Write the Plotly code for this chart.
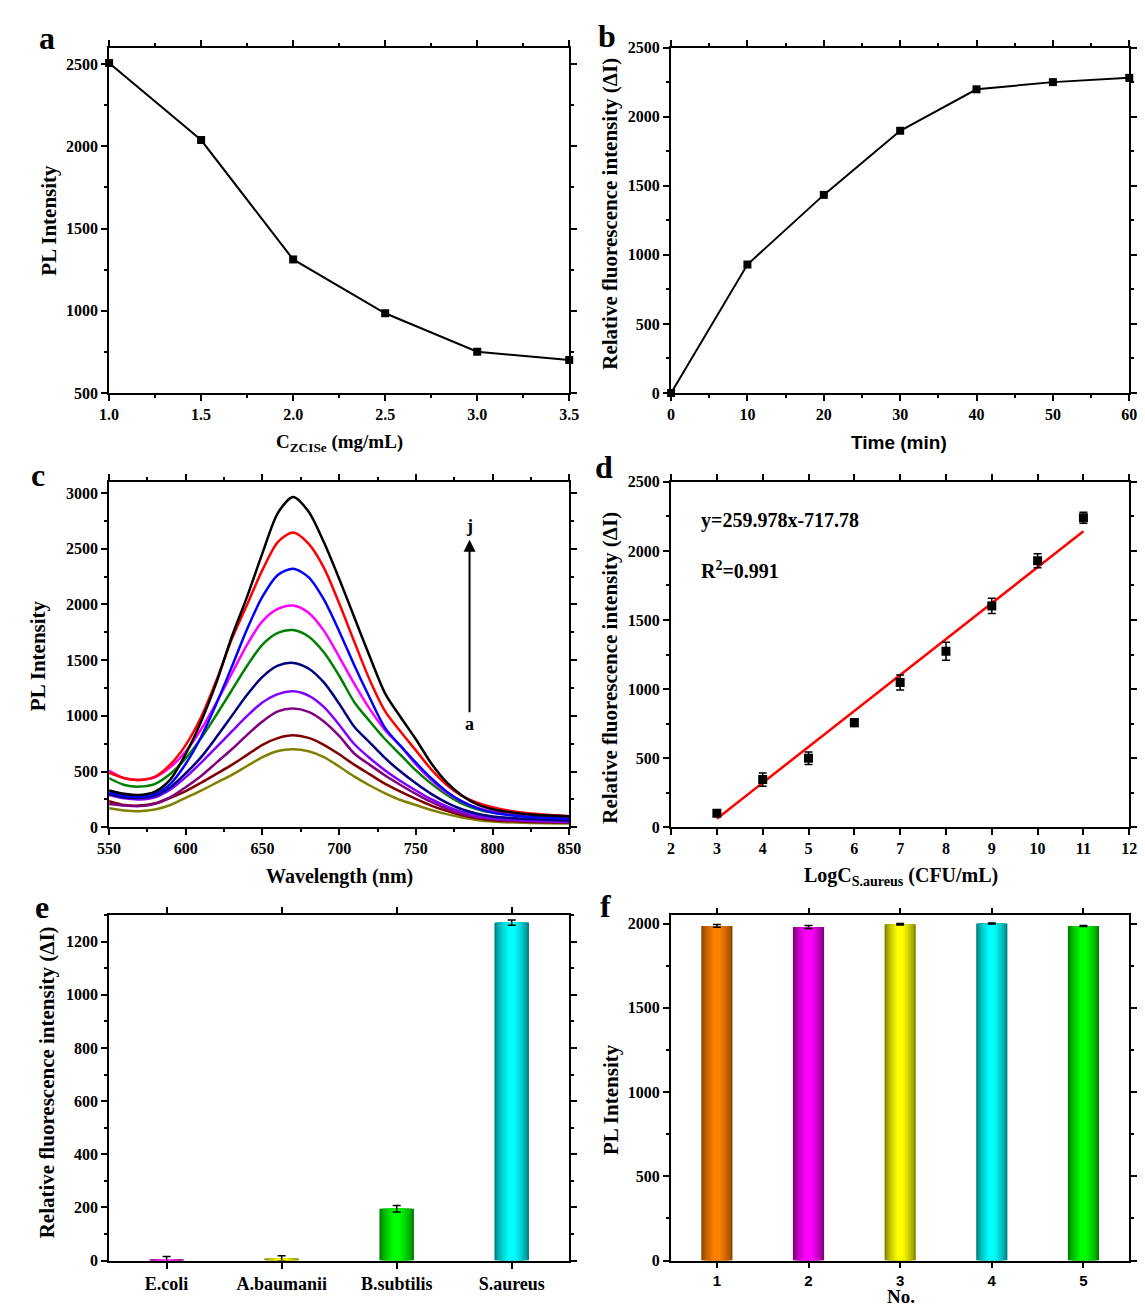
import plotly.graph_objects as go

W, H = 1145, 1305

# ---------------- data ----------------
# panel a
a_x = [1.0, 1.5, 2.0, 2.5, 3.0, 3.5]
a_y = [2506, 2038, 1312, 985, 751, 701]
# panel b
b_x = [0, 10, 20, 30, 40, 50, 60]
b_y = [0, 930, 1434, 1898, 2198, 2250, 2281]
# panel c (spectra a..j)
c_wl = [550, 560, 570, 580, 590, 600, 610, 620, 630, 640, 650, 660, 670, 680,
        690, 700, 710, 720, 730, 740, 750, 760, 770, 780, 790, 800, 820, 850]
c_a = [170, 150, 145, 160, 200, 265, 330, 400, 470, 550, 630, 685, 700, 682,
       630, 545, 455, 375, 305, 245, 200, 155, 118, 88, 66, 52, 40, 33]
c_b = [235, 200, 195, 215, 265, 325, 400, 480, 560, 650, 740, 800, 825, 802,
       740, 655, 560, 475, 390, 320, 255, 195, 147, 108, 82, 64, 50, 42]
c_c = [210, 195, 190, 210, 270, 360, 460, 580, 700, 830, 950, 1040, 1065, 1035,
       950, 820, 660, 560, 465, 380, 300, 228, 168, 122, 92, 72, 56, 46]
c_d = [290, 260, 250, 270, 340, 450, 580, 720, 860, 1000, 1120, 1195, 1220, 1182,
       1080, 920, 745, 620, 510, 415, 330, 252, 188, 138, 102, 82, 64, 52]
c_e = [300, 270, 265, 285, 360, 485, 630, 810, 1000, 1190, 1350, 1450, 1475, 1425,
       1300, 1110, 900, 760, 620, 500, 395, 300, 222, 162, 122, 97, 77, 62]
c_f = [440, 380, 365, 390, 480, 620, 800, 1010, 1230, 1450, 1640, 1745, 1770, 1712,
       1570, 1360, 1120, 950, 790, 650, 510, 392, 292, 212, 162, 132, 106, 90]
c_g = [510, 440, 425, 450, 540, 680, 880, 1120, 1380, 1640, 1850, 1960, 1990, 1925,
       1765, 1530, 1285, 1060, 870, 730, 565, 425, 312, 230, 175, 140, 105, 88]
c_h = [310, 285, 275, 300, 390, 570, 810, 1110, 1440, 1780, 2070, 2265, 2320, 2245,
       2045, 1760, 1450, 1160, 890, 730, 580, 440, 322, 232, 172, 132, 96, 76]
c_i = [490, 440, 425, 455, 565, 740, 990, 1320, 1690, 2000, 2310, 2560, 2645, 2545,
       2330, 2010, 1660, 1320, 1040, 860, 690, 520, 382, 282, 220, 180, 130, 100]
c_j = [330, 300, 290, 320, 430, 660, 950, 1300, 1710, 2070, 2460, 2820, 2965, 2835,
       2560, 2230, 1880, 1530, 1200, 990, 790, 575, 405, 285, 205, 162, 120, 98]
c_series = [c_a, c_b, c_c, c_d, c_e, c_f, c_g, c_h, c_i, c_j]
c_colors = ["#808000", "#800000", "#800080", "#8000FF", "#000080",
            "#008000", "#FF00FF", "#0000FF", "#FF0000", "#000000"]
# panel d
d_x = [3, 4, 5, 6, 7, 8, 9, 10, 11]
d_y = [102, 345, 500, 757, 1048, 1274, 1602, 1929, 2240]
d_err = [22, 48, 45, 28, 55, 65, 55, 50, 40]
fit_slope, fit_intercept = 259.978, -717.78
fit_x = [3, 11]
# panel e
e_cats = ["E.coli", "A.baumanii", "B.subtilis", "S.aureus"]
e_vals = [5, 8, 195, 1272]
e_err = [10, 10, 12, 10]
e_bright = ["#FF40FF", "#FFFF00", "#00FF00", "#00FFFF"]
e_dark = ["#800080", "#808000", "#008000", "#008080"]
# panel f
f_x = [1, 2, 3, 4, 5]
f_vals = [1986, 1980, 1996, 2000, 1986]
f_err = [8, 9, 5, 3, 3]
f_bright = ["#FF8000", "#FF00FF", "#FFFF00", "#00FFFF", "#00FF00"]
f_dark = ["#8B4500", "#800080", "#808000", "#008080", "#008000"]

# ---------------- helpers ----------------
SERIF = "Liberation Serif"
SANS = "Liberation Sans"


def px(x, y):
    return x / W, 1 - y / H


def dom_x(a, b):
    return [a / W, b / W]


def dom_y(top, bottom):
    return [1 - bottom / H, 1 - top / H]


def axis(domain, rng, dtick, minor_dtick=None, anchor=None, font=SERIF, fsize=16, **kw):
    d = dict(domain=domain, range=rng, dtick=dtick, showline=True, linecolor="black",
             linewidth=2, mirror="ticks", ticks="outside", ticklen=6, tickwidth=2,
             tickcolor="black", showgrid=False, zeroline=False, anchor=anchor,
             tickfont=dict(family=font, size=fsize, color="black", weight="bold"))
    if minor_dtick:
        d["minor"] = dict(dtick=minor_dtick, ticks="outside", ticklen=3, tickwidth=1.5,
                          tickcolor="black", showgrid=False)
    d.update(kw)
    return d


def hex2rgb(h):
    h = h.lstrip("#")
    return [int(h[i:i + 2], 16) for i in (0, 2, 4)]


def lerp(c1, c2, t):
    a, b = hex2rgb(c1), hex2rgb(c2)
    return "rgb(%d,%d,%d)" % tuple(round(a[i] + (b[i] - a[i]) * t) for i in range(3))


fig = go.Figure()

# panel a
fig.add_trace(go.Scatter(x=a_x, y=a_y, mode="lines+markers", xaxis="x", yaxis="y",
                         line=dict(color="black", width=2),
                         marker=dict(symbol="square", size=8, color="black"),
                         cliponaxis=False, showlegend=False))
# panel b
fig.add_trace(go.Scatter(x=b_x, y=b_y, mode="lines+markers", xaxis="x2", yaxis="y2",
                         line=dict(color="black", width=2),
                         marker=dict(symbol="square", size=8, color="black"),
                         cliponaxis=False, showlegend=False))
# panel c
for ys, col in zip(c_series, c_colors):
    fig.add_trace(go.Scatter(x=c_wl, y=ys, mode="lines", xaxis="x3", yaxis="y3",
                             line=dict(color=col, width=2.5, shape="spline", smoothing=0.8),
                             showlegend=False))
# panel d
fit_y = [fit_slope * v + fit_intercept for v in fit_x]
fig.add_trace(go.Scatter(x=fit_x, y=fit_y, mode="lines", xaxis="x4", yaxis="y4",
                         line=dict(color="#FF0000", width=2.5), showlegend=False))
fig.add_trace(go.Scatter(x=d_x, y=d_y, mode="markers", xaxis="x4", yaxis="y4",
                         marker=dict(symbol="square", size=9, color="black"),
                         error_y=dict(type="data", array=d_err, color="black",
                                      thickness=1.5, width=4),
                         showlegend=False))


def gradient_bars(xs, vals, errs, brights, darks, width, xa, ya, n=9):
    for k in range(n):
        t = k / (n - 1)
        wk = width * (1 - 0.9 * k / n)
        cols = [lerp(dk, br, t ** 0.7) for br, dk in zip(brights, darks)]
        tr = dict(x=xs, y=vals, width=[wk] * len(xs), xaxis=xa, yaxis=ya,
                  marker=dict(color=cols, line=dict(width=0)), showlegend=False)
        if k == n - 1:
            tr["error_y"] = dict(type="data", array=errs, color="black",
                                 thickness=1.5, width=4)
        fig.add_trace(go.Bar(**tr))


gradient_bars(e_cats, e_vals, e_err, e_bright, e_dark, 0.3, "x5", "y5")
gradient_bars(f_x, f_vals, f_err, f_bright, f_dark, 0.34, "x6", "y6")

LX = dom_x(91, 561)
RX = dom_x(665, 1133)
R1 = dom_y(32, 382)
R2 = dom_y(472, 822)
R3 = dom_y(911, 1261)

fig.update_layout(
    width=W, height=H, margin=dict(l=0, r=0, t=0, b=0),
    paper_bgcolor="white", plot_bgcolor="white", barmode="overlay",
    xaxis=axis(LX, [1.0, 3.5], 0.5, 0.25, anchor="y", tickformat=".1f"),
    yaxis=axis(R1, [500, 2600], 500, 250, anchor="x"),
    xaxis2=axis(RX, [0, 60], 10, 5, anchor="y2"),
    yaxis2=axis(R1, [0, 2500], 500, 250, anchor="x2"),
    xaxis3=axis(LX, [550, 850], 50, 25, anchor="y3"),
    yaxis3=axis(R2, [0, 3100], 500, 250, anchor="x3"),
    xaxis4=axis(RX, [2, 12], 1, None, anchor="y4"),
    yaxis4=axis(R2, [0, 2500], 500, 250, anchor="x4"),
    xaxis5=axis(LX, [-0.5, 3.5], 1, None, anchor="y5", fsize=18, type="category"),
    yaxis5=axis(R3, [0, 1300], 200, 100, anchor="x5"),
    xaxis6=axis(RX, [0.5, 5.5], 1, None, anchor="y6", font=SANS, fsize=15, ticklen=5),
    yaxis6=axis(R3, [0, 2050], 500, 250, anchor="x6"),
)

ann = []


def text(x, y, s, size=20, angle=0, family=SERIF, xanchor="center"):
    xx, yy = px(x, y)
    ann.append(dict(x=xx, y=yy, xref="paper", yref="paper", text=s, showarrow=False,
                    textangle=angle, xanchor=xanchor, yanchor="middle",
                    font=dict(family=family, size=size, color="black", weight="bold")))


# panel letters
for lt, x, y in [("a", 28, 22), ("b", 600, 20), ("c", 18, 465), ("d", 597, 457),
                 ("e", 22, 903), ("f", 598, 902)]:
    text(x, y, lt, size=32)

RFI = "Relative fluorescence intensity (ΔI)"
text(30, 207, "PL Intensity", size=21, angle=-90)
text(326, 433, "C<sub>ZCISe</sub> (mg/mL)", size=19)
text(603, 200, RFI, size=21, angle=-90)
text(898, 432, "Time (min)", size=19, family=SANS)
text(18, 648, "PL Intensity", size=21, angle=-90)
text(326, 872, "Wavelength (nm)", size=20)
text(603, 660, RFI, size=21, angle=-90)
text(900, 872, "LogC<sub>S.aureus</sub> (CFU/mL)", size=20)
text(28, 1080, RFI, size=21, angle=-90)
text(603, 1098, "PL Intensity", size=21, angle=-90)
text(900, 1297, "No.", size=19)

# panel d equation
ann.append(dict(x=2.6, y=2220, xref="x4", yref="y4", text="y=259.978x-717.78",
                showarrow=False, xanchor="left",
                font=dict(family=SERIF, size=20, color="black", weight="bold")))
ann.append(dict(x=2.6, y=1860, xref="x4", yref="y4", text="R<sup>2</sup>=0.991",
                showarrow=False, xanchor="left",
                font=dict(family=SERIF, size=20, color="black", weight="bold")))

# panel c arrow and labels
ann.append(dict(x=785, y=2580, ax=785, ay=1020, xref="x3", yref="y3", axref="x3",
                ayref="y3", text="", showarrow=True, arrowhead=2, arrowsize=1.2,
                arrowwidth=2, arrowcolor="black"))
ann.append(dict(x=785, y=2700, xref="x3", yref="y3", text="j", showarrow=False,
                font=dict(family=SERIF, size=18, color="black", weight="bold")))
ann.append(dict(x=785, y=930, xref="x3", yref="y3", text="a", showarrow=False,
                font=dict(family=SERIF, size=18, color="black", weight="bold")))

fig.update_layout(annotations=ann)
fig.write_html("out.html")
